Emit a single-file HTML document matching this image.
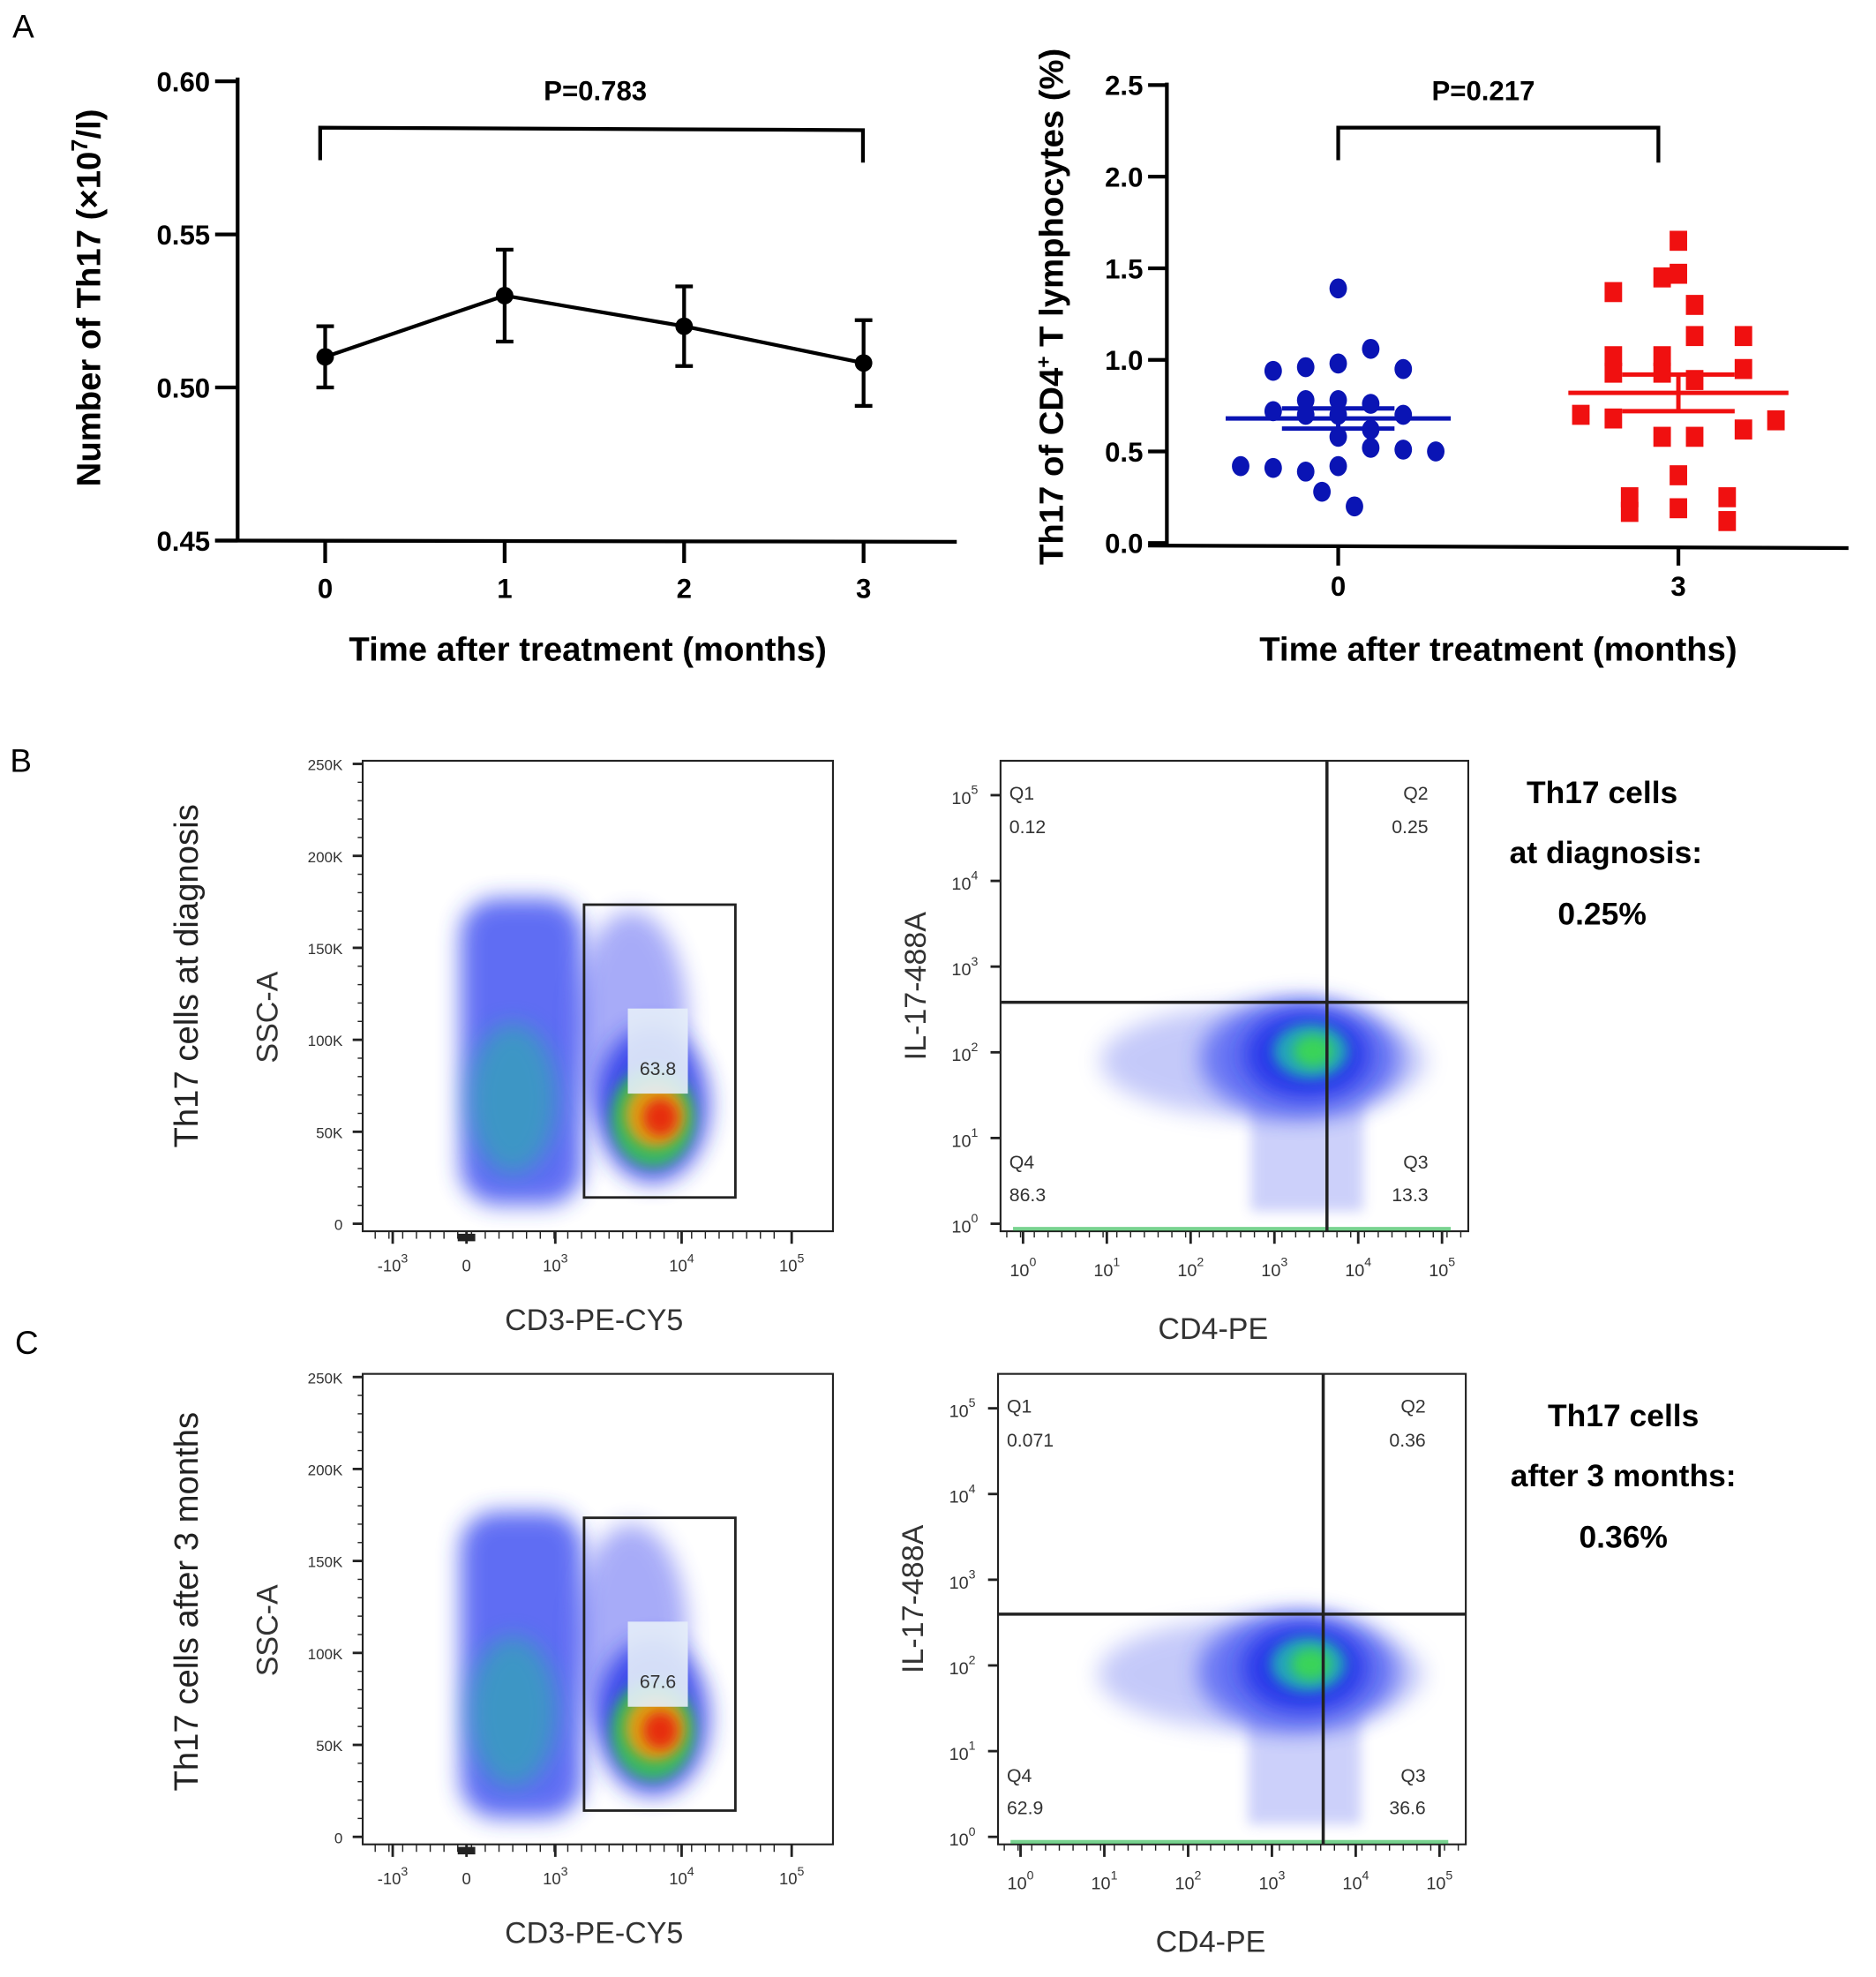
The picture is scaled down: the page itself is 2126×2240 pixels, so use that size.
<!DOCTYPE html>
<html><head><meta charset="utf-8"><style>
html,body{margin:0;padding:0;background:#fff}
svg{display:block}
text{font-family:"Liberation Sans",sans-serif}
.b{font-weight:bold}
</style></head><body>
<svg id="fig" width="2126" height="2240" viewBox="0 0 1500 1580" preserveAspectRatio="none" xmlns="http://www.w3.org/2000/svg">
<defs>
<filter id="blur" x="-50%" y="-50%" width="200%" height="200%"><feGaussianBlur stdDeviation="9"/></filter>
<filter id="blur2" x="-50%" y="-50%" width="200%" height="200%"><feGaussianBlur stdDeviation="5"/></filter>
</defs>
<text x="10" y="30" font-size="26">A</text>
<text x="8" y="617" font-size="26">B</text>
<text x="12" y="1082" font-size="26">C</text>
<g id="chartA1"></g>
<g id="chartA2"></g>
<g id="flow"></g>
</svg>
<script>
// ---- Chart A1 data
const a1Categories = ["0","1","2","3"];
const a1Means = [0.510, 0.530, 0.520, 0.508];
const a1Errors = [0.010, 0.015, 0.013, 0.014];
const a1Ticks = [0.45, 0.50, 0.55, 0.60];
const a1TickLabels = ["0.45","0.50","0.55","0.60"];
// ---- Chart A2 data
const a2Categories = ["0","3"];
const a2BlueValues = [1.39,0.94,0.96,0.98,1.06,0.95,0.78,0.78,0.76,0.72,0.70,0.70,0.70,0.62,0.58,0.52,0.51,0.50,0.42,0.41,0.39,0.42,0.28,0.20];
const a2BlueJitter = [0,-2,-1,0,1,2,-1,0,1,-2,-1,0,2,1,0,1,2,3,-3,-2,-1,0,-0.5,0.5];
const a2RedValues = [1.65,1.45,1.47,1.37,1.30,1.13,1.13,1.02,1.02,0.93,0.93,0.95,0.89,0.70,0.68,0.67,0.58,0.58,0.62,0.37,0.25,0.25,0.19,0.17,0.12];
const a2RedJitter = [0,-0.5,0,-2,0.5,0.5,2,-2,-0.5,-2,-0.5,2,0.5,-3,-2,3,-0.5,0.5,2,0,-1.5,1.5,0,-1.5,1.5];
const a2Means = [0.68, 0.82];
const a2Sem = [0.055, 0.10];
const a2Ticks = [0,0.5,1.0,1.5,2.0,2.5];
const a2TickLabels = ["0.0","0.5","1.0","1.5","2.0","2.5"];

const NS="http://www.w3.org/2000/svg";
function mk(parent,tag,attrs,txt){const e=document.createElementNS(NS,tag);for(const k in attrs)e.setAttribute(k,attrs[k]);if(txt!==undefined)e.textContent=txt;parent.appendChild(e);return e;}

// ---- A1
(function(){
const g=document.getElementById('chartA1');
const y=v=>432-(v-0.45)/0.15*367;
const x=i=>260+i*143.5;
mk(g,'line',{x1:190,y1:62,x2:190,y2:433,stroke:'#000','stroke-width':3});
mk(g,'line',{x1:172,y1:432,x2:765,y2:433,stroke:'#000','stroke-width':3});
a1Ticks.forEach((t,i)=>{
 mk(g,'line',{x1:172,y1:y(t),x2:190,y2:y(t),stroke:'#000','stroke-width':3});
 const tl=mk(g,'text',{x:168,y:y(t)+8,'font-size':22,'text-anchor':'end',class:'b'},a1TickLabels[i]);
 
 
});
a1Categories.forEach((c,i)=>{
 mk(g,'line',{x1:x(i),y1:433,x2:x(i),y2:450,stroke:'#000','stroke-width':3});
 const tl=mk(g,'text',{x:x(i),y:478,'font-size':22,'text-anchor':'middle',class:'b'},c);
 
 
});
let d='';a1Means.forEach((m,i)=>{d+=(i?'L':'M')+x(i)+','+y(m);});
const ln=mk(g,'path',{d:d,fill:'none',stroke:'#000','stroke-width':3});


a1Means.forEach((m,i)=>{
 const e=mk(g,'path',{d:`M${x(i)},${y(m+a1Errors[i])}V${y(m-a1Errors[i])}M${x(i)-7},${y(m+a1Errors[i])}h14M${x(i)-7},${y(m-a1Errors[i])}h14`,stroke:'#000','stroke-width':3,fill:'none'});
 
 
 const p=mk(g,'circle',{cx:x(i),cy:y(m),r:7,fill:'#000'});
 
 
});
mk(g,'path',{d:'M256,128V102L690,104V130',fill:'none',stroke:'#000','stroke-width':3});
mk(g,'text',{x:476,y:80,'font-size':22,'text-anchor':'middle',class:'b'},'P=0.783');
const yt=mk(g,'text',{transform:'translate(80,238) rotate(-90)','font-size':27,'text-anchor':'middle',class:'b'});


yt.innerHTML='Number of Th17 (×10<tspan font-size="18" dy="-10">7</tspan><tspan dy="10">/l)</tspan>';
const xt=mk(g,'text',{x:470,y:528,'font-size':27,'text-anchor':'middle',class:'b'},'Time after treatment (months)');


})();

// ---- A2
(function(){
const g=document.getElementById('chartA2');
const y=v=>434-v/2.5*366;
const cx=[1070,1342];const J=26;
mk(g,'line',{x1:933,y1:66,x2:933,y2:437,stroke:'#000','stroke-width':3});
mk(g,'line',{x1:918,y1:436,x2:1478,y2:438,stroke:'#000','stroke-width':3});
a2Ticks.forEach((t,i)=>{
 mk(g,'line',{x1:918,y1:y(t),x2:933,y2:y(t),stroke:'#000','stroke-width':3});
 const tl=mk(g,'text',{x:914,y:y(t)+8,'font-size':22,'text-anchor':'end',class:'b'},a2TickLabels[i]);
 
 
});
a2Categories.forEach((c,i)=>{
 mk(g,'line',{x1:cx[i],y1:437,x2:cx[i],y2:452,stroke:'#000','stroke-width':3});
 const tl=mk(g,'text',{x:cx[i],y:476,'font-size':22,'text-anchor':'middle',class:'b'},c);
 
 
});
a2BlueValues.forEach((v,i)=>{
 const p=mk(g,'ellipse',{cx:cx[0]+a2BlueJitter[i]*J,cy:y(v),rx:7,ry:8,fill:'#0a14b4'});
 
 
});
a2RedValues.forEach((v,i)=>{
 const p=mk(g,'rect',{x:cx[1]+a2RedJitter[i]*J-7,y:y(v)-8,width:14,height:16,fill:'#f01010'});
 
 
});
const cols=['#0a14b4','#f01010'];const mw=[90,88];
a2Means.forEach((m,i)=>{
 const e=mk(g,'path',{d:`M${cx[i]-mw[i]},${y(m)}h${2*mw[i]}M${cx[i]-45},${y(m+a2Sem[i])}h90M${cx[i]-45},${y(m-a2Sem[i])}h90M${cx[i]},${y(m+a2Sem[i])}V${y(m-a2Sem[i])}`,stroke:cols[i],'stroke-width':3.5,fill:'none'});
 
 
});
mk(g,'path',{d:'M1070,128V102H1326V130',fill:'none',stroke:'#000','stroke-width':3});
mk(g,'text',{x:1186,y:80,'font-size':22,'text-anchor':'middle',class:'b'},'P=0.217');
const yt=mk(g,'text',{transform:'translate(850,245) rotate(-90)','font-size':27,'text-anchor':'middle',class:'b'});


yt.innerHTML='Th17 of CD4<tspan font-size="16" dy="-10">+</tspan><tspan dy="10"> T lymphocytes (%)</tspan>';
const xt=mk(g,'text',{x:1198,y:528,'font-size':27,'text-anchor':'middle',class:'b'},'Time after treatment (months)');


})();

// ---- Flow plots (decorative density)
(function(){
const g=document.getElementById('flow');
function ssc(oy,gateLabel,gateTop,rowName){
 const G=mk(g,'g',{});
 
 
 mk(G,'rect',{x:290,y:oy,width:376,height:376,fill:'#fff',stroke:'#222','stroke-width':1.5});
 // density clouds
 mk(G,'rect',{x:368,y:oy+110,width:98,height:245,rx:30,fill:'#2a3cf0',opacity:0.75,filter:'url(#blur)'});
 mk(G,'ellipse',{cx:410,cy:oy+270,rx:35,ry:60,fill:'#20b8a0',opacity:0.55,filter:'url(#blur)'});
 mk(G,'ellipse',{cx:505,cy:oy+210,rx:45,ry:90,fill:'#3c46f0',opacity:0.45,filter:'url(#blur)'});
 mk(G,'ellipse',{cx:522,cy:oy+275,rx:45,ry:62,fill:'#2030e8',opacity:0.8,filter:'url(#blur)'});
 mk(G,'ellipse',{cx:522,cy:oy+285,rx:34,ry:40,fill:'#30d040',opacity:0.8,filter:'url(#blur2)'});
 mk(G,'ellipse',{cx:524,cy:oy+283,rx:24,ry:26,fill:'#f0a010',opacity:0.9,filter:'url(#blur2)'});
 mk(G,'ellipse',{cx:528,cy:oy+285,rx:14,ry:15,fill:'#e82010',opacity:0.9,filter:'url(#blur2)'});
 mk(G,'rect',{x:502,y:oy+198,width:48,height:68,fill:'#e6eef8',opacity:0.9});
 mk(G,'text',{x:526,y:oy+251,'font-size':15,'text-anchor':'middle',fill:'#333'},gateLabel);
 const gate=mk(G,'rect',{x:467,y:oy+gateTop,width:121,height:234,fill:'none',stroke:'#222','stroke-width':2});
 
 
 const yl=['0','50K','100K','150K','200K','250K'];
 yl.forEach((t,i)=>{const yy=oy+370-i*73.5;mk(G,'line',{x1:282,y1:yy,x2:290,y2:yy,stroke:'#222','stroke-width':2});
  mk(G,'text',{x:274,y:yy+5,'font-size':12,'text-anchor':'end',fill:'#333'},t);});
 for(let i=0;i<25;i++){const yy=oy+370-i*14.7;mk(G,'line',{x1:286,y1:yy,x2:290,y2:yy,stroke:'#222','stroke-width':1});}
 const xs=[[314,'-10','3'],[373,'0',''],[444,'10','3'],[545,'10','4'],[633,'10','5']];
 xs.forEach(a=>{mk(G,'line',{x1:a[0],y1:oy+376,x2:a[0],y2:oy+386,stroke:'#222','stroke-width':2});
  const t=mk(G,'text',{x:a[0],y:oy+408,'font-size':13,'text-anchor':'middle',fill:'#333'});t.innerHTML=a[1]+(a[2]?'<tspan dy="-7" font-size="10">'+a[2]+'</tspan>':'');});
 for(let i=0;i<30;i++){const xx=300+i*11;mk(G,'line',{x1:xx,y1:oy+376,x2:xx,y2:oy+382,stroke:'#222','stroke-width':1});}
 mk(G,'rect',{x:366,y:oy+378,width:14,height:6,fill:'#222'});
 mk(G,'text',{transform:`translate(222,${oy+205}) rotate(-90)`,'font-size':24,'text-anchor':'middle',fill:'#333'},'SSC-A');
 mk(G,'text',{x:475,y:oy+455,'font-size':24,'text-anchor':'middle',fill:'#333'},'CD3-PE-CY5');
}
function il(ox,oy,vals,rowName,vx,hy){
 const G=mk(g,'g',{});
 
 
 mk(G,'rect',{x:ox,y:oy,width:374,height:376,fill:'#fff',stroke:'#222','stroke-width':1.5});
 mk(G,'ellipse',{cx:ox+210,cy:oy+240,rx:130,ry:45,fill:'#5a68f0',opacity:0.35,filter:'url(#blur)'});
 mk(G,'ellipse',{cx:ox+240,cy:oy+238,rx:80,ry:48,fill:'#2a3cf0',opacity:0.6,filter:'url(#blur)'});
 mk(G,'ellipse',{cx:ox+245,cy:oy+235,rx:50,ry:36,fill:'#1e2ee8',opacity:0.85,filter:'url(#blur)'});
 mk(G,'ellipse',{cx:ox+248,cy:oy+232,rx:30,ry:22,fill:'#20c0b0',opacity:0.8,filter:'url(#blur2)'});
 mk(G,'ellipse',{cx:ox+250,cy:oy+232,rx:16,ry:13,fill:'#40e040',opacity:0.8,filter:'url(#blur2)'});
 mk(G,'rect',{x:ox+200,y:oy+270,width:90,height:90,fill:'#5a68f0',opacity:0.3,filter:'url(#blur2)'});
 mk(G,'line',{x1:ox+10,y1:oy+374,x2:ox+360,y2:oy+374,stroke:'#40c060','stroke-width':3,opacity:0.7});
 mk(G,'line',{x1:ox+vx,y1:oy,x2:ox+vx,y2:oy+376,stroke:'#222','stroke-width':2.5});
 mk(G,'line',{x1:ox,y1:oy+hy,x2:ox+374,y2:oy+hy,stroke:'#222','stroke-width':2.5});
 const q=[['Q1',ox+7,oy+31,'start'],[vals[0],ox+7,oy+58,'start'],['Q2',ox+342,oy+31,'end'],[vals[1],ox+342,oy+58,'end'],
  ['Q4',ox+7,oy+326,'start'],[vals[3],ox+7,oy+352,'start'],['Q3',ox+342,oy+326,'end'],[vals[2],ox+342,oy+352,'end']];
 q.forEach(a=>mk(G,'text',{x:a[1],y:a[2],'font-size':15,'text-anchor':a[3],fill:'#333'},a[0]));
 for(let i=0;i<6;i++){const yy=oy+370-i*68.5;mk(G,'line',{x1:ox-8,y1:yy,x2:ox,y2:yy,stroke:'#222','stroke-width':2});
  const t=mk(G,'text',{x:ox-18,y:yy+7,'font-size':14,'text-anchor':'end',fill:'#333'});t.innerHTML='10<tspan dy="-8" font-size="10">'+i+'</tspan>';}
 for(let i=0;i<6;i++){const xx=ox+18+i*67;mk(G,'line',{x1:xx,y1:oy+376,x2:xx,y2:oy+386,stroke:'#222','stroke-width':2});
  const t=mk(G,'text',{x:xx,y:oy+412,'font-size':14,'text-anchor':'middle',fill:'#333'});t.innerHTML='10<tspan dy="-8" font-size="10">'+i+'</tspan>';}
 for(let i=0;i<34;i++){const xx=ox+5+i*11;mk(G,'line',{x1:xx,y1:oy+376,x2:xx,y2:oy+381,stroke:'#222','stroke-width':1});}
 mk(G,'text',{transform:`translate(${ox-60},${oy+180}) rotate(-90)`,'font-size':24,'text-anchor':'middle',fill:'#333'},'IL-17-488A');
 mk(G,'text',{x:ox+170,y:oy+462,'font-size':24,'text-anchor':'middle',fill:'#333'},'CD4-PE');
}
ssc(608,'63.8',115,'diagnosis');
il(800,608,['0.12','0.25','13.3','86.3'],'diagnosis',261,193);
ssc(1098,'67.6',115,'three-months');
il(798,1098,['0.071','0.36','36.6','62.9'],'three-months',260,192);
function rowLabel(y,t,n){const e=mk(g,'text',{transform:`translate(158,${y}) rotate(-90)`,'font-size':27,'text-anchor':'middle',fill:'#222'},t);
 }
rowLabel(780,'Th17 cells at diagnosis','row-label-diagnosis');
rowLabel(1280,'Th17 cells after 3 months','row-label-three-months');
[['Th17 cells',1281,642],['at diagnosis:',1284,690],['0.25%',1281,739],['Th17 cells',1298,1140],['after 3 months:',1298,1188],['0.36%',1298,1237]].forEach(a=>{
 const e=mk(g,'text',{x:a[1],y:a[2],'font-size':25,'text-anchor':'middle',class:'b'},a[0]);
 
 
});
})();
</script>
</body></html>
